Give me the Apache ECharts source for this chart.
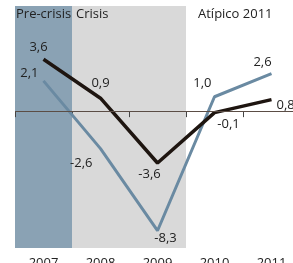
<!DOCTYPE html>
<html>
<head>
<meta charset="utf-8">
<script src="https://cdn.jsdelivr.net/npm/echarts@6/dist/echarts.min.js"></script>
<style>
  html, body { margin: 0; padding: 0; background: #fff; }
  #main { width: 293px; height: 263px; }
</style>
</head>
<body>
<div id="main"></div>
<script>
// años y series
var years = ['2007', '2008', '2009', '2010', '2011']
var blackValues = [3.6, 0.9, -3.6, -0.1, 0.8]
var blueValues = [2.1, -2.6, -8.3, 1.0, 2.6]
// bandas de fondo: 1 = sombreado
var bandValues = [1, 1, 1, 0, 0]
var bandColors = ['#8aa2b4', '#d9d9d9', '#d9d9d9', '#ffffff', '#ffffff']

// posición de etiquetas (solo estilo)
var blackLabelPos = [
  { position: 'top', offset: [-5, 0] },
  { position: 'top', offset: [0, -3] },
  { position: 'bottom', offset: [-8, 0] },
  { position: 'bottom', offset: [14, 0] },
  { position: 'right', offset: [0, 6] }
]
var blueLabelPos = [
  { position: 'left', offset: [0, -8] },
  { position: 'left', offset: [-3, 15] },
  { position: 'bottom', offset: [8, -4] },
  { position: 'left', offset: [2, -13] },
  { position: 'top', offset: [-9, 0] }
]

function fmt(v) {
  return v.toFixed(1).replace('.', ',')
}

function buildData(values, pos) {
  return values.map(function (v, i) {
    return {
      value: v,
      label: { position: pos[i].position, offset: pos[i].offset }
    }
  })
}

var font = '"Open Sans", sans-serif'
var chart = echarts.init(document.getElementById('main'))

var lineLabel = {
  show: true,
  color: '#222',
  fontSize: 13,
  fontFamily: font,
  formatter: function (p) { return fmt(p.value) }
}

chart.setOption({
  animation: false,
  grid: { left: 15, top: 6, width: 285, height: 242, outerBoundsMode: 'none', containLabel: false },
  xAxis: {
    type: 'category',
    data: years,
    boundaryGap: true,
    axisLine: { show: false },
    axisTick: { show: true, length: 6, lineStyle: { color: '#444', width: 1 } },
    axisLabel: { color: '#222', fontSize: 13, fontFamily: font, margin: 9 },
    splitLine: { show: false }
  },
  yAxis: [
    { type: 'value', min: -9.5, max: 7.3, show: false, splitLine: { show: false } },
    { type: 'value', min: 0, max: 1, show: false, splitLine: { show: false } }
  ],
  graphic: [
    { type: 'text', left: 16, top: 8, z: 100, style: { text: 'Pre-crisis', fill: '#222', font: '13px ' + font } },
    { type: 'text', left: 76, top: 8, z: 100, style: { text: 'Crisis', fill: '#222', font: '13px ' + font } },
    { type: 'text', left: 198, top: 8, z: 100, style: { text: 'Atípico 2011', fill: '#222', font: '13px ' + font } }
  ],
  series: [
    {
      type: 'bar',
      yAxisIndex: 1,
      barWidth: '100%',
      silent: true,
      z: 0,
      data: bandValues.map(function (v, i) {
        return { value: v, itemStyle: { color: bandColors[i] } }
      })
    },
    {
      type: 'line',
      data: buildData(blueValues, blueLabelPos),
      symbol: 'circle',
      symbolSize: 0.1,
      itemStyle: { color: '#6a8aa2' },
      lineStyle: { color: '#6a8aa2', width: 3 },
      label: lineLabel,
      z: 3
    },
    {
      type: 'line',
      data: buildData(blackValues, blackLabelPos),
      symbol: 'circle',
      symbolSize: 0.1,
      itemStyle: { color: '#1e1510' },
      lineStyle: { color: '#1e1510', width: 3.5 },
      label: lineLabel,
      markLine: {
        silent: true,
        symbol: 'none',
        label: { show: false },
        lineStyle: { color: '#5b4d45', width: 1, type: 'solid' },
        data: [{ yAxis: 0 }]
      },
      z: 4
    }
  ]
})
</script>
</body>
</html>
